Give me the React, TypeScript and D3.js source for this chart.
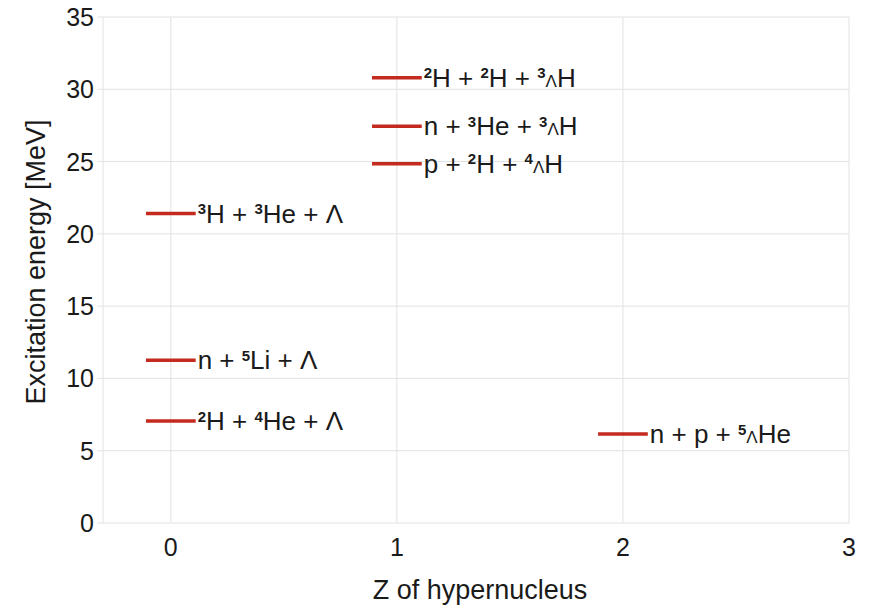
import React from "react";
import * as d3 from "d3";

// Decay channels: charge Z of the hypernucleus and excitation energy (MeV)
const channelZ = [0, 0, 0, 1, 1, 1, 2];
const channelEnergy = [21.4, 11.25, 7.05, 30.8, 27.45, 24.85, 6.15];
const channelLabels = [
  "³H + ³He + Λ",
  "n + ⁵Li + Λ",
  "²H + ⁴He + Λ",
  "²H + ²H + ³ΛH",
  "n + ³He + ³ΛH",
  "p + ²H + ⁴ΛH",
  "n + p + ⁵ΛHe",
];

const xTicks = [0, 1, 2, 3];
const yTicks = [0, 5, 10, 15, 20, 25, 30, 35];
const xTitle = "Z of hypernucleus";
const yTitle = "Excitation energy [MeV]";

const W = 874;
const H = 608;
const FONT = "'Liberation Sans', Arial, Helvetica, sans-serif";
const TEXT = "#1a1a1a";
const GRID = "#e2e2e2";
const RED = "#c42a1e";

const LABEL_SIZE = 26;
const SUP_SIZE = 15;
const SUB_SIZE = 17;
const SUP_SHIFT = 8.5;
const HALF_WIDTH = 0.11;

const SUP_MAP: Record<string, string> = { "²": "2", "³": "3", "⁴": "4", "⁵": "5" };

type Seg = { text: string; kind: "normal" | "sup" | "sub" };

function parseLabel(s: string): Seg[] {
  const segs: Seg[] = [];
  const chars = Array.from(s);
  chars.forEach((c, i) => {
    let kind: Seg["kind"] = "normal";
    let text = c;
    if (SUP_MAP[c]) {
      kind = "sup";
      text = SUP_MAP[c];
    } else if (c === "Λ" && i > 0 && SUP_MAP[chars[i - 1]]) {
      kind = "sub";
    }
    const last = segs[segs.length - 1];
    if (last && last.kind === kind) last.text += text;
    else segs.push({ text, kind });
  });
  return segs;
}

function Label({ x, y, text }: { x: number; y: number; text: string }) {
  const segs = parseLabel(text);
  let raised = false;
  return (
    <text x={x} y={y} fontSize={LABEL_SIZE} fontFamily={FONT} fill={TEXT}>
      {segs.map((s, i) => {
        let dy = 0;
        if (s.kind === "sup" && !raised) {
          dy = -SUP_SHIFT;
          raised = true;
        } else if (s.kind !== "sup" && raised) {
          dy = SUP_SHIFT;
          raised = false;
        }
        const size = s.kind === "sup" ? SUP_SIZE : s.kind === "sub" ? SUB_SIZE : LABEL_SIZE;
        return (
          <tspan
            key={i}
            dy={dy}
            fontSize={size}
            fontWeight={s.kind === "sup" ? 600 : 400}
            style={{ whiteSpace: "pre" }}
          >
            {s.text}
          </tspan>
        );
      })}
    </text>
  );
}

export default function App() {
  const x = d3.scaleLinear().domain([-0.3, 3]).range([103, 849]);
  const y = d3.scaleLinear().domain([0, 35]).range([523, 17]);
  const [x0, x1] = x.range();

  return (
    <svg
      width={W}
      height={H}
      style={{ position: "absolute", left: 0, top: 0, background: "#fff" }}
      xmlSpace="preserve"
    >
      {/* grid */}
      {yTicks.map((t) => (
        <line key={"gy" + t} x1={x0 - 6} x2={x1} y1={y(t)} y2={y(t)} stroke={GRID} strokeWidth={1} />
      ))}
      <line x1={x0} x2={x0} y1={y(0)} y2={y(35)} stroke={GRID} strokeWidth={1} />
      {xTicks.map((t) => (
        <line key={"gx" + t} x1={x(t)} x2={x(t)} y1={y(0)} y2={y(35)} stroke={GRID} strokeWidth={1} />
      ))}

      {/* tick labels */}
      {yTicks.map((t) => (
        <text
          key={"ty" + t}
          x={x0 - 9}
          y={y(t) + 9}
          textAnchor="end"
          fontSize={25}
          fontFamily={FONT}
          fill={TEXT}
        >
          {t}
        </text>
      ))}
      {xTicks.map((t) => (
        <text
          key={"tx" + t}
          x={x(t)}
          y={556}
          textAnchor="middle"
          fontSize={25}
          fontFamily={FONT}
          fill={TEXT}
        >
          {t}
        </text>
      ))}

      {/* axis titles */}
      <text x={(x0 + x1) / 2 + 4} y={599} textAnchor="middle" fontSize={27} fontFamily={FONT} fill={TEXT}>
        {xTitle}
      </text>
      <text
        transform={`translate(45, ${(y(0) + y(35)) / 2 - 8}) rotate(-90)`}
        textAnchor="middle"
        fontSize={27}
        fontFamily={FONT}
        fill={TEXT}
      >
        {yTitle}
      </text>

      {/* channel levels */}
      {channelZ.map((z, i) => (
        <g key={"ch" + i}>
          <line
            x1={x(z - HALF_WIDTH)}
            x2={x(z + HALF_WIDTH)}
            y1={y(channelEnergy[i])}
            y2={y(channelEnergy[i])}
            stroke={RED}
            strokeWidth={3.5}
          />
          <Label x={x(z + HALF_WIDTH) + 2} y={y(channelEnergy[i]) + 9} text={channelLabels[i]} />
        </g>
      ))}
    </svg>
  );
}
